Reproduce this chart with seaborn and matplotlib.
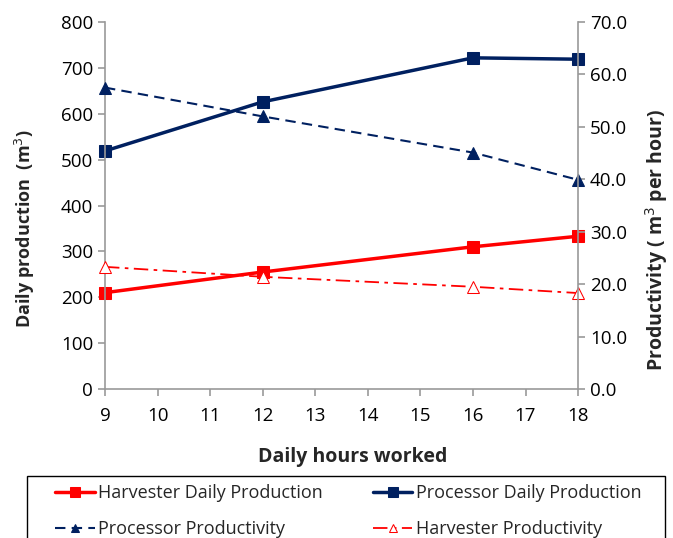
import matplotlib
matplotlib.use("Agg")
import matplotlib.pyplot as plt
from matplotlib.patches import Rectangle
import seaborn as sns
import pandas as pd

hours = [9, 12, 16, 18]
harvester_prod = [210, 255, 310, 333]
processor_prod = [519, 626, 722, 719]
processor_productivity = [57.5, 52.0, 45.1, 39.9]
harvester_productivity = [23.3, 21.4, 19.5, 18.3]

sns.set_style("white")
plt.rcParams['font.family'] = ['Open Sans', 'DejaVu Sans']

red = "#FF0000"
navy = "#002060"

fig = plt.figure(figsize=(6.73, 5.38), dpi=100)
ax = fig.add_axes([0.156, 0.277, 0.703, 0.682])
ax2 = ax.twinx()

df = pd.DataFrame({"hours": hours, "hp": harvester_prod, "pp": processor_prod,
                   "ppr": processor_productivity, "hpr": harvester_productivity})

sns.lineplot(data=df, x="hours", y="hp", ax=ax, color=red, lw=2.5, marker="s",
             markersize=9, markeredgecolor=red, label="Harvester Daily Production", legend=False, clip_on=False)
sns.lineplot(data=df, x="hours", y="pp", ax=ax, color=navy, lw=2.5, marker="s",
             markersize=9, markeredgecolor=navy, label="Processor Daily Production", legend=False, clip_on=False)
sns.lineplot(data=df, x="hours", y="ppr", ax=ax2, color=navy, lw=1.5, marker="^",
             markersize=8, markeredgecolor=navy, label="Processor Productivity", legend=False, clip_on=False)
ax2.lines[-1].set_dashes([5, 3])
sns.lineplot(data=df, x="hours", y="hpr", ax=ax2, color=red, lw=1.3, marker="^",
             markersize=8, markerfacecolor="white", markeredgecolor=red,
             label="Harvester Productivity", legend=False, clip_on=False)
ax2.lines[-1].set_dashes([8, 3, 2, 3])

ax.set_xlim(9, 18)
ax.set_ylim(0, 800)
ax2.set_ylim(0, 70)
ax.set_xticks(range(9, 19))
ax.set_yticks(range(0, 801, 100))
ax2.set_yticks(range(0, 71, 10))
ax2.set_yticklabels([f"{v:.1f}" for v in range(0, 71, 10)])

for a in (ax, ax2):
    for s in a.spines.values():
        s.set_color("#999999")
        s.set_linewidth(1.2)
    a.spines["top"].set_visible(False)
ax.spines["right"].set_visible(False)
ax2.spines["left"].set_visible(False)
ax2.spines["bottom"].set_visible(False)

ax.tick_params(axis="both", which="major", labelsize=13.5, colors="#999999", labelcolor="black",
               direction="out", length=5, width=1.2)
ax.tick_params(axis="x", pad=8)
ax2.tick_params(axis="y", labelsize=13.5, colors="#999999", labelcolor="black",
                direction="out", length=5, width=1.2, right=True)
ax.tick_params(left=True, bottom=True)

ax.set_xlabel("Daily hours worked", fontsize=14, fontweight="bold", va="center")
ax.xaxis.set_label_coords(0.524, -0.185)
ax.set_ylabel("Daily production  (m$^3$)", fontsize=13, fontweight="bold", va="center", ha="center")
ax.yaxis.set_label_coords(-0.169, 0.436)
ax2.set_ylabel("Productivity ( m$^3$ per hour)", fontsize=14, fontweight="bold", va="center", ha="center")
ax2.yaxis.set_label_coords(1.166, 0.406)

# legend box (extends past figure bottom like reference)
fig.patches.append(Rectangle((27 / 673, -0.05), (665 - 27) / 673, 0.05 + (538 - 476) / 538,
                             transform=fig.transFigure, fill=False, edgecolor="black",
                             linewidth=1.0, zorder=5))

h1, l1 = ax.get_legend_handles_labels()
h2, l2 = ax2.get_legend_handles_labels()
handles = [h1[0], h2[0], h1[1], h2[1]]
labels = [l1[0], l2[0], l1[1], l2[1]]
leg = fig.legend(handles, labels, ncol=2, loc="upper left", bbox_to_anchor=(55 / 673, (538 - 484) / 538),
                 fontsize=13, frameon=False, handlelength=2.2, handletextpad=0.2,
                 columnspacing=2.75, labelspacing=1.0, borderpad=0.0, borderaxespad=0.0,
                 markerscale=0.8)

fig.savefig("out.png", dpi=100)
